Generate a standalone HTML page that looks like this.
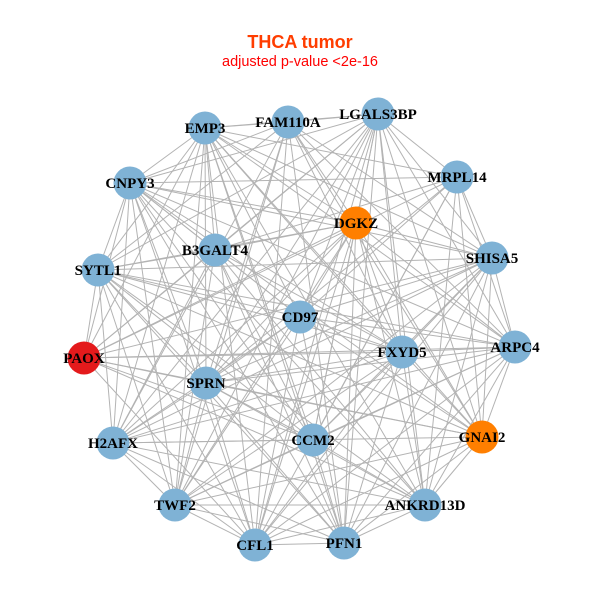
<!DOCTYPE html>
<html><head><meta charset="utf-8"><style>
html,body{margin:0;padding:0;background:#fff;width:600px;height:600px;overflow:hidden}
</style></head><body>
<svg id="g" width="600" height="600" xmlns="http://www.w3.org/2000/svg">
<rect width="600" height="600" fill="#fff"/>
<text x="300" y="48" text-anchor="middle" font-family="Liberation Sans, sans-serif" font-weight="bold" font-size="18" fill="#ff3d00">THCA tumor</text>
<text x="300" y="66" text-anchor="middle" font-family="Liberation Sans, sans-serif" font-size="14.5" fill="#ff0000">adjusted p-value &lt;2e-16</text>
<g id="edges" stroke="#b3b3b3" stroke-width="1"></g>
<g id="nodes"></g>
<g id="labels" font-family="Liberation Serif, serif" font-weight="bold" font-size="15" fill="#000" text-anchor="middle"></g>
</svg>
<script>
var N=[["FAM110A",288,122,"#7fb2d5"],["LGALS3BP",378,114,"#7fb2d5"],["EMP3",205,128,"#7fb2d5"],["MRPL14",457,177,"#7fb2d5"],["CNPY3",130,183,"#7fb2d5"],["DGKZ",356,223,"#ff7f00"],["B3GALT4",215,250,"#7fb2d5"],["SHISA5",492,258,"#7fb2d5"],["SYTL1",98,270,"#7fb2d5"],["CD97",300,317,"#7fb2d5"],["ARPC4",515,347,"#7fb2d5"],["FXYD5",402,352,"#7fb2d5"],["PAOX",84,358,"#e41a1c"],["SPRN",206,383,"#7fb2d5"],["H2AFX",113,443,"#7fb2d5"],["CCM2",313,440,"#7fb2d5"],["GNAI2",482,437,"#ff7f00"],["TWF2",175,505,"#7fb2d5"],["ANKRD13D",425,505,"#7fb2d5"],["CFL1",255,545,"#7fb2d5"],["PFN1",344,543,"#7fb2d5"]];
var ns="http://www.w3.org/2000/svg",E=document.getElementById("edges"),G=document.getElementById("nodes"),L=document.getElementById("labels");
for(var i=0;i<N.length;i++)for(var j=i+1;j<N.length;j++){if((i*7+j*3)%9==0)continue;var l=document.createElementNS(ns,"line");l.setAttribute("x1",N[i][1]);l.setAttribute("y1",N[i][2]);l.setAttribute("x2",N[j][1]);l.setAttribute("y2",N[j][2]);E.appendChild(l);}
N.forEach(function(n){var c=document.createElementNS(ns,"circle");c.setAttribute("cx",n[1]);c.setAttribute("cy",n[2]);c.setAttribute("r",16.5);c.setAttribute("fill",n[3]);G.appendChild(c);var t=document.createElementNS(ns,"text");t.setAttribute("x",n[1]);t.setAttribute("y",n[2]+5);t.textContent=n[0];L.appendChild(t);});
</script>
</body></html>
